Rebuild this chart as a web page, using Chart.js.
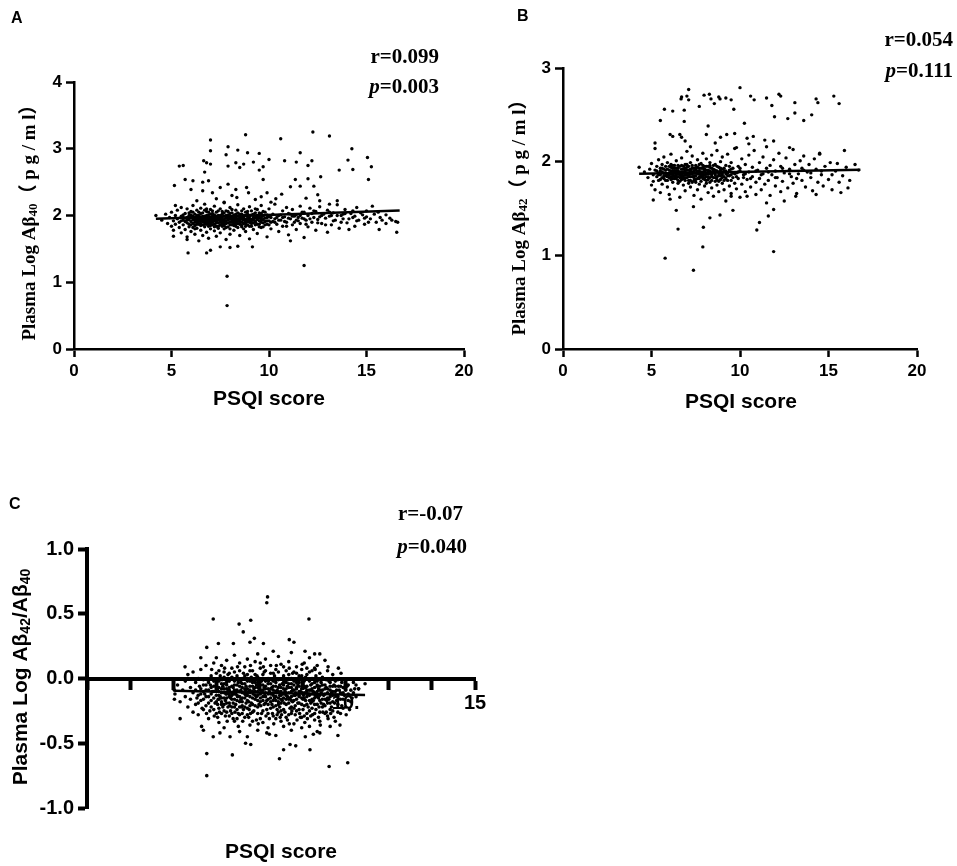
<!DOCTYPE html>
<html>
<head>
<meta charset="utf-8">
<script src="https://cdn.jsdelivr.net/npm/chart.js@4.4.1/dist/chart.umd.min.js"></script>
<style>
  body { margin: 0; background: #fff; width: 957px; height: 866px; position: relative; overflow: hidden; }
  .panel { position: absolute; }
</style>
</head>
<body>
<div class="panel" style="left:0;top:0;width:480px;height:420px"><canvas id="chartA"></canvas></div>
<div class="panel" style="left:480px;top:0;width:477px;height:420px"><canvas id="chartB"></canvas></div>
<div class="panel" style="left:0;top:460px;width:500px;height:406px"><canvas id="chartC"></canvas></div>
<script>
// ---- Panel A : PSQI score vs plasma log Abeta40 ----
const outA = [[4.2,2.0],[5.15,2.45],[5.4,2.74],[5.6,2.75],[5.7,2.54],[5.2,2.15],[5.85,1.44],[6.1,2.52],[6.0,2.39],[6.65,2.82],[6.7,2.65],[6.8,2.79],[7.0,3.13],[7.0,2.97],[7.0,2.77],[6.9,2.52],[7.1,2.34],[7.8,2.91],[7.9,3.03],[7.9,2.74],[8.4,2.98],[8.3,2.79],[8.5,2.72],[8.8,3.21],[8.9,2.94],[8.7,2.77],[9.2,2.8],[9.5,2.93],[9.5,2.68],[9.7,2.73],[9.7,2.54],[10.0,2.84],[10.6,3.15],[10.8,2.82],[11.6,2.94],[11.4,2.8],[12.0,2.75],[12.2,2.82],[12.25,3.25],[12.0,2.55],[12.65,2.58],[13.1,3.19],[13.6,2.68],[14.05,2.83],[14.25,3.0],[14.3,2.69],[15.05,2.87],[15.1,2.54],[15.25,2.73],
  [6.6,2.5],[6.6,2.37],[7.5,2.42],[7.9,2.47],[8.3,2.39],[8.35,2.27],[8.85,2.42],[8.95,2.34],[9.3,2.24],[9.9,2.34],[10.35,2.25],[10.65,2.32],[11.1,2.43],[11.35,2.54],[11.6,2.44],[12.3,2.44],[12.6,2.22],[13.1,2.17],[13.5,2.22],
  [6.3,2.22],[7.3,2.25],[7.7,2.2],[8.1,2.3],[9.6,2.28],[10.1,2.2],[11.9,2.26],[12.5,2.31],
  [6.8,1.44],[7.0,1.48],[7.85,1.09],[7.85,0.65],[11.8,1.25],[7.5,1.53],[8.0,1.52],[8.4,1.54],[9.15,1.53],[11.1,1.62],[5.8,1.64],[5.1,1.69],[15.65,1.79],[16.55,1.75]];
const bandA = [[4.5,1.93],[4.7,2.02],[4.8,1.88],[4.9,1.97],[5.0,1.84],[5.0,2.05],[5.1,1.92],[5.1,1.78],[5.2,2.0],[5.2,1.87],[5.3,1.95],[5.3,2.08],[5.4,1.82],[5.4,1.9],[5.5,1.99],[5.5,1.74],[5.5,2.12],
  [5.6,1.93],[5.6,1.86],[5.7,2.03],[5.7,1.79],[5.7,1.96],[5.8,1.89],[5.8,2.1],[5.8,1.68],[5.9,1.94],[5.9,2.0],[5.9,1.83],[6.0,1.91],[6.0,1.97],[6.0,2.06],[6.0,1.76],[6.1,1.88],[6.1,1.99],[6.1,2.15],[6.2,1.93],[6.2,1.85],[6.2,2.02],[6.2,1.72],[6.3,1.96],[6.3,1.9],[6.3,2.08],[6.3,1.81],[6.4,1.94],[6.4,1.87],[6.4,2.0],[6.4,1.62],[6.5,1.92],[6.5,1.98],[6.5,2.11],[6.5,1.78],[6.6,1.95],[6.6,1.86],[6.6,2.04],[6.6,1.7],[6.7,1.9],[6.7,1.99],[6.7,1.83],[6.7,2.17],[6.8,1.93],[6.8,1.96],[6.8,2.06],[6.8,1.75],[6.9,1.88],[6.9,2.01],[6.9,1.94],[6.9,1.66],[7.0,1.91],[7.0,1.97],[7.0,2.09],[7.0,1.8],
  [7.1,1.95],[7.1,1.86],[7.1,2.03],[7.2,1.92],[7.2,1.99],[7.2,1.77],[7.2,2.14],[7.3,1.89],[7.3,1.96],[7.3,2.05],[7.3,1.69],[7.4,1.93],[7.4,1.84],[7.4,2.0],[7.5,1.97],[7.5,1.9],[7.5,2.1],[7.5,1.74],[7.6,1.94],[7.6,1.87],[7.6,2.02],[7.7,1.91],[7.7,1.99],[7.7,1.8],[7.7,2.19],[7.8,1.96],[7.8,1.88],[7.8,2.07],[7.8,1.64],[7.9,1.93],[7.9,2.01],[7.9,1.83],[8.0,1.95],[8.0,1.9],[8.0,2.12],[8.0,1.72],[8.1,1.98],[8.1,1.86],[8.1,2.04],[8.2,1.92],[8.2,1.97],[8.2,1.78],[8.3,1.94],[8.3,2.08],[8.3,1.88],[8.4,1.99],[8.4,1.82],[8.4,2.16],[8.5,1.93],[8.5,1.96],[8.5,1.7],
  [8.6,1.9],[8.6,2.02],[8.6,1.85],[8.7,1.97],[8.7,1.93],[8.7,2.1],[8.8,1.88],[8.8,2.0],[8.8,1.76],[8.9,1.95],[8.9,1.91],[8.9,2.06],[9.0,1.98],[9.0,1.84],[9.0,2.13],[9.0,1.65],[9.1,1.94],[9.1,2.01],[9.2,1.89],[9.2,1.97],[9.2,1.79],[9.3,2.04],[9.3,1.92],[9.4,1.87],[9.4,2.09],[9.4,1.73],[9.5,1.96],[9.5,2.0],[9.6,1.9],[9.6,1.82],[9.6,2.15],[9.7,1.99],[9.7,1.94],[9.8,1.86],[9.8,2.05],[9.9,1.92],[9.9,1.68],[10.0,1.98],[10.0,2.1],
  [10.1,1.9],[10.1,1.8],[10.2,2.02],[10.3,1.95],[10.3,2.17],[10.4,1.87],[10.5,2.0],[10.5,1.76],[10.6,1.93],[10.7,2.07],[10.7,1.84],[10.8,1.98],[10.9,2.12],[10.9,1.9],[11.0,1.71],[11.0,2.03],[11.1,1.95],[11.2,1.86],[11.2,2.09],[11.3,1.99],[11.4,1.79],[11.4,2.01],[11.5,1.92],[11.6,2.14],[11.6,1.88],[11.7,1.96],[11.8,1.67],[11.8,2.05],[11.9,1.93],[12.0,1.83],[12.0,2.0],
  [12.1,2.11],[12.2,1.9],[12.3,1.97],[12.4,2.06],[12.4,1.78],[12.5,1.94],[12.6,2.13],[12.7,1.88],[12.8,2.02],[12.9,1.96],[13.0,1.75],[13.0,2.08],[13.1,1.99],[13.2,1.86],[13.3,2.04],[13.4,1.93],[13.5,2.16],[13.6,1.81],[13.7,2.0],[13.8,1.95],[13.9,2.09],[14.0,1.89],[14.1,1.79],[14.2,2.03],[14.3,1.97],[14.4,1.84],[14.5,2.12],[14.6,1.93],[14.8,2.01],[14.9,1.87],[15.0,2.07],[15.2,1.95],[15.3,2.14],[15.5,1.9],[15.6,2.05],[15.8,1.93],[16.0,1.88],[16.2,1.96],[16.5,1.91]];
const coreA = [[5.6,2.01],[5.7,1.91],[5.8,1.97],[5.9,1.87],[6.0,2.01],[6.1,1.94],[6.1,1.82],[6.2,1.97],[6.3,1.87],[6.3,2.0],[6.4,1.91],[6.4,2.05],[6.5,1.88],[6.5,1.95],[6.6,1.99],[6.6,1.91],[6.7,1.94],[6.7,2.08],[6.8,1.87],[6.8,2.0],[6.9,1.97],[6.9,1.84],[7.0,1.94],[7.0,2.02],[7.1,1.9],[7.1,1.99],[7.2,1.87],[7.2,1.95],[7.3,1.93],[7.3,1.84],[7.4,1.97],[7.4,2.07],[7.5,1.86],[7.5,1.93],[7.6,1.98],[7.6,1.91],[7.7,1.88],[7.7,2.04],[7.8,1.92],[7.8,2.0],[7.9,1.89],[7.9,1.97],[8.0,1.86],[8.0,2.03],[8.1,1.93],[8.1,1.9],[8.2,2.01],[8.2,1.88],[8.3,1.97],[8.3,1.84],[8.4,1.92],[8.4,1.95],[8.5,2.02],[8.5,1.87],[8.6,1.95],[8.6,1.98],[8.7,1.88],[8.7,1.8],[8.8,1.94],[8.8,2.05],[8.9,1.98],[8.9,1.86],[9.0,1.93],[9.0,1.9],[9.1,1.88],[9.1,2.07],[9.2,1.93],[9.2,2.02],[9.3,1.86],[9.3,1.97],[9.4,1.94],[9.4,2.0],[9.5,1.87],[9.5,1.92],[9.6,1.97],[9.6,2.03],[9.7,1.89],[9.7,1.83],[9.8,1.96],[9.9,2.01],[9.9,1.87],[10.0,1.92],[10.2,1.91],[10.4,1.97],[10.6,2.01],[10.8,1.91],[11.0,1.96],[11.2,1.99],[11.4,1.93],[11.6,2.0],[11.8,1.95],[12.2,2.03],[12.6,1.98],[13.2,2.0],[13.8,2.02],[14.4,1.99],[15.0,1.98]];
const coreA2 = [[5.5,1.92],[5.6,1.97],[5.8,1.93],[5.9,2.04],[6.0,1.86],[6.1,2.05],[6.2,1.9],[6.2,1.8],[6.3,1.93],[6.4,1.98],[6.5,1.85],[6.5,2.03],[6.6,1.93],[6.7,1.87],[6.7,1.97],[6.8,1.9],[6.8,2.1],[6.9,1.92],[6.9,2.05],[7.0,1.88],[7.0,1.85],[7.1,1.93],[7.1,2.07],[7.2,1.83],[7.2,2.01],[7.3,1.99],[7.3,1.91],[7.4,1.89],[7.4,1.81],[7.5,2.0],[7.5,1.95],[7.6,1.84],[7.6,2.06],[7.7,1.94],[7.7,1.85],[7.8,1.98],[7.8,1.82],[7.9,1.95],[7.9,2.06],[8.0,1.97],[8.0,1.8],[8.1,1.96],[8.1,2.09],[8.2,1.94],[8.2,1.85],[8.3,1.91],[8.3,2.02],[8.4,1.88],[8.4,2.04],[8.5,1.98],[8.5,1.91],[8.6,1.83],[8.6,2.07],[8.7,1.95],[8.7,2.0],[8.8,1.91],[8.8,1.84],[8.9,2.02],[8.9,1.93],[9.0,1.95],[9.0,2.0],[9.1,1.92],[9.1,1.84],[9.2,1.95],[9.3,1.9],[9.3,2.1],[9.4,1.97],[9.5,1.83],[9.5,2.04],[9.6,1.93],[9.7,2.06],[9.8,1.91],[9.9,1.97],[10.0,1.86],[10.1,1.97],[10.3,1.9],[10.5,1.93],[10.7,1.97],[10.9,1.84],[11.1,2.02],[11.3,1.9],[11.5,1.97],[11.7,2.05],[11.9,1.87],[12.1,1.95],[12.3,2.07],[12.5,1.89],[12.7,2.0],[12.9,1.86],[13.1,2.05],[13.3,1.92],[13.5,2.0],[13.7,1.9],[13.9,2.03],[14.1,1.95],[14.3,2.07],[14.5,1.92],[14.7,2.04],[14.9,1.96],[15.1,1.9],[15.4,2.02],[15.7,1.97],[16.0,2.01],[16.3,1.93],[16.6,1.9]];
const fitAX = [4.2, 16.7];
const fitAY = [1.95, 2.075];

// ---- Panel B : PSQI score vs plasma log Abeta42 ----
const outB = [[5.5,2.44],[5.73,2.56],[6.2,2.54],[6.05,2.29],[6.2,2.27],[6.67,2.67],[6.7,2.69],[6.85,2.43],[7.0,2.7],[7.1,2.77],[7.1,2.66],[6.85,2.55],[7.7,2.59],[7.97,2.71],[8.27,2.72],[8.36,2.67],[8.55,2.62],[8.2,2.38],[8.8,2.69],[8.87,2.67],[9.2,2.68],[9.5,2.66],[9.65,2.56],[10.0,2.79],[10.25,2.41],[10.6,2.7],[10.8,2.66],[11.5,2.68],[11.8,2.6],[11.95,2.48],[12.2,2.72],[12.3,2.7],[12.7,2.46],[13.1,2.63],[13.1,2.52],[13.6,2.44],[14.05,2.5],[14.3,2.67],[14.4,2.63],[15.3,2.7],[15.6,2.62],
  [5.2,2.2],[5.2,2.14],[6.6,2.29],[6.7,2.26],[6.9,2.22],[7.2,2.16],[8.1,2.29],[8.6,2.2],[8.9,2.26],[9.25,2.29],[9.7,2.3],[10.4,2.25],[10.75,2.27],[11.4,2.23],[11.9,2.22],[12.8,2.15],[14.5,2.09],[15.9,2.12],[9.8,2.15],[10.5,2.19],
  [5.77,0.97],[7.37,0.84],[7.9,1.09],[11.9,1.04],[10.95,1.27],[11.1,1.35],[6.5,1.28],[7.93,1.3],[8.3,1.4],[8.87,1.43],[9.6,1.48],[6.4,1.48],[5.1,1.59],[11.6,1.42],[11.9,1.49],[11.5,1.56],[12.5,1.58],[13.15,1.63],[14.3,1.65],[15.7,1.67],[16.1,1.72],[6.05,1.6],[7.37,1.52],[9.5,1.63],[10.4,1.63]];
const bandB = [[4.3,1.94],[4.6,1.89],[4.8,1.83],[4.9,1.92],[5.0,1.75],[5.0,1.98],[5.1,1.86],[5.1,1.79],[5.2,1.91],[5.2,1.7],[5.3,1.95],[5.3,1.84],[5.4,1.88],[5.4,2.02],[5.5,1.81],[5.5,1.93],[5.5,1.67],[5.6,1.89],[5.6,1.97],[5.6,1.76],[5.7,1.85],[5.7,1.92],[5.7,2.05],[5.8,1.8],[5.8,1.88],[5.8,1.95],[5.9,1.73],[5.9,1.86],[5.9,1.99],[6.0,1.83],[6.0,1.91],[6.0,1.65],[6.1,1.87],[6.1,1.94],[6.1,2.08],[6.2,1.78],[6.2,1.85],[6.2,1.9],[6.3,1.96],[6.3,1.82],[6.3,1.71],[6.4,1.88],[6.4,1.93],[6.4,2.01],[6.5,1.84],[6.5,1.77],[6.5,1.9],[6.6,1.95],[6.6,1.86],[6.6,1.62],[6.7,1.81],[6.7,1.89],[6.7,2.04],[6.8,1.92],[6.8,1.75],[6.8,1.85],[6.9,1.97],[6.9,1.83],[6.9,1.69],[7.0,1.88],[7.0,1.94],[7.0,2.11],[7.1,1.8],[7.1,1.86],[7.1,1.91],[7.2,1.73],[7.2,1.99],[7.2,1.84],[7.3,1.89],[7.3,1.78],[7.3,2.06],[7.4,1.93],[7.4,1.85],[7.4,1.64],[7.5,1.88],[7.5,1.96],[7.5,1.81],[7.6,1.7],[7.6,1.9],[7.6,2.02],[7.7,1.84],[7.7,1.87],[7.7,1.76],[7.8,1.93],[7.8,1.98],[7.8,1.6],[7.9,1.82],[7.9,1.89],[7.9,2.09],[8.0,1.86],[8.0,1.74],[8.0,1.95],[8.1,1.8],[8.1,1.91],[8.1,2.03],[8.2,1.67],[8.2,1.87],[8.2,1.84],[8.3,1.94],[8.3,1.78],[8.3,1.99],[8.4,1.89],[8.4,1.72],[8.4,2.07],[8.5,1.83],[8.5,1.92],[8.5,1.63],[8.6,1.86],[8.6,1.97],[8.6,1.79],[8.7,1.9],[8.7,2.12],[8.7,1.75],[8.8,1.85],[8.8,1.94],[8.8,1.68],[8.9,1.81],[8.9,2.0],[8.9,1.88],[9.0,1.77],[9.0,1.92],[9.0,2.05],[9.1,1.84],[9.1,1.7],[9.2,1.96],[9.2,1.87],[9.2,1.58],[9.3,1.8],[9.3,2.08],[9.4,1.91],[9.4,1.74],[9.5,1.86],[9.5,1.99],[9.5,1.66],[9.6,1.83],[9.6,1.93],[9.7,1.77],[9.7,2.14],[9.8,1.88],[9.8,1.71],[9.9,1.95],[9.9,1.82],[10.0,1.62],[10.0,1.9],[10.1,2.03],[10.1,1.76],[10.2,1.86],[10.3,1.97],[10.3,1.68],[10.4,1.81],[10.5,2.07],[10.5,1.89],[10.6,1.73],[10.7,1.94],[10.7,1.84],[10.8,2.12],[10.9,1.78],[10.9,1.65],[11.0,1.91],[11.1,1.99],[11.1,1.82],[11.2,1.7],[11.3,2.05],[11.3,1.87],[11.4,1.76],[11.5,1.93],[11.5,2.16],[11.6,1.8],[11.7,1.64],[11.7,1.96],[11.8,1.86],[11.9,2.02],[12.0,1.74],[12.0,1.9],[12.1,1.83],[12.2,2.09],[12.3,1.95],[12.3,1.68],[12.4,1.79],[12.5,1.88],[12.6,2.04],[12.7,1.72],[12.8,1.92],[12.9,1.84],[13.0,2.13],[13.0,1.77],[13.1,1.97],[13.2,1.66],[13.3,1.87],[13.4,2.01],[13.5,1.8],[13.5,1.93],[13.6,2.06],[13.7,1.73],[13.8,1.89],[13.9,1.97],[14.0,1.83],[14.1,1.69],[14.2,2.03],[14.3,1.92],[14.4,1.78],[14.5,2.08],[14.6,1.86],[14.7,1.74],[14.8,1.95],[15.0,1.81],[15.1,1.99],[15.2,1.7],[15.4,1.9],[15.5,1.98],[15.6,1.78],[15.8,1.85],[16.0,1.94],[16.2,1.8],[16.5,1.97],[16.7,1.91]];
const coreB = [[5.4,1.86],[5.5,1.9],[5.6,1.83],[5.7,1.88],[5.8,1.91],[5.9,1.84],[6.0,1.88],[6.0,1.95],[6.1,1.81],[6.1,1.9],[6.2,1.93],[6.2,1.87],[6.3,1.85],[6.3,1.9],[6.4,1.82],[6.4,1.86],[6.5,1.93],[6.5,1.87],[6.6,1.89],[6.6,1.83],[6.7,1.92],[6.7,1.86],[6.8,1.88],[6.8,1.95],[6.9,1.86],[6.9,1.9],[7.0,1.83],[7.0,1.91],[7.1,1.88],[7.1,1.95],[7.2,1.87],[7.2,1.92],[7.3,1.84],[7.3,1.93],[7.4,1.88],[7.4,1.8],[7.5,1.91],[7.5,1.85],[7.6,1.87],[7.6,1.94],[7.7,1.9],[7.7,1.82],[7.8,1.86],[7.8,1.89],[7.9,1.93],[7.9,1.85],[8.0,1.9],[8.0,1.83],[8.1,1.87],[8.1,1.95],[8.2,1.91],[8.2,1.81],[8.3,1.87],[8.3,1.9],[8.4,1.84],[8.4,1.93],[8.5,1.88],[8.6,1.91],[8.7,1.84],[8.8,1.89],[8.9,1.93],[9.0,1.86],[9.1,1.9],[9.2,1.82],[9.3,1.88],[9.4,1.85],[9.5,1.92],[9.7,1.87],[9.9,1.89],[10.2,1.83]];
const coreB2 = [[5.3,1.9],[5.4,1.8],[5.5,1.86],[5.6,1.93],[5.7,1.82],[5.8,1.85],[5.9,1.92],[5.9,1.8],[6.0,1.86],[6.1,1.84],[6.1,1.97],[6.2,1.82],[6.2,1.96],[6.3,1.88],[6.3,1.93],[6.4,1.84],[6.4,1.9],[6.5,1.8],[6.5,1.96],[6.6,1.88],[6.6,1.79],[6.7,1.84],[6.7,1.96],[6.8,1.82],[6.8,1.89],[6.9,1.93],[6.9,1.8],[7.0,1.86],[7.0,1.97],[7.1,1.84],[7.1,1.77],[7.2,1.9],[7.2,1.8],[7.3,1.87],[7.3,1.96],[7.4,1.9],[7.4,1.83],[7.5,1.78],[7.5,1.93],[7.6,1.82],[7.6,1.89],[7.7,1.93],[7.7,1.97],[7.8,1.84],[7.8,1.79],[7.9,1.87],[7.9,1.96],[8.0,1.81],[8.0,1.92],[8.1,1.84],[8.1,1.77],[8.2,1.89],[8.2,1.95],[8.3,1.83],[8.3,1.96],[8.4,1.86],[8.4,1.8],[8.5,1.9],[8.5,1.96],[8.6,1.83],[8.6,1.88],[8.7,1.81],[8.7,1.95],[8.8,1.87],[8.8,1.79],[8.9,1.85],[8.9,1.91],[9.0,1.83],[9.0,1.88],[9.1,1.93],[9.1,1.8],[9.2,1.9],[9.3,1.85],[9.4,1.95],[9.5,1.8],[9.6,1.88],[9.8,1.84],[10.0,1.93],[10.3,1.87],[10.6,1.82],[10.9,1.9],[11.2,1.86],[11.6,1.89],[12.0,1.83],[12.4,1.93],[12.8,1.87],[13.2,1.82],[13.6,1.91],[14.0,1.88],[14.6,1.9],[15.2,1.86]];
const fitBX = [4.3, 16.8];
const fitBY = [1.87, 1.915];

// ---- Panel C : PSQI score vs plasma log Abeta42/Abeta40 ----
const outC = [[6.98,0.63],[6.95,0.585],[4.88,0.46],[8.58,0.46],[5.88,0.42],[6.33,0.45],[6.04,0.36],[6.47,0.31],[6.3,0.28],[7.82,0.3],[8.0,0.28],[5.66,0.27],[5.08,0.27],[4.63,0.24],[6.82,0.27],[8.8,0.19],[8.43,0.21],[7.2,0.21],[3.79,0.09],[9.72,0.08],
  [3.6,-0.31],[9.78,-0.36],[4.63,-0.58],[4.63,-0.75],[5.62,-0.59],[7.44,-0.62],[7.6,-0.55],[7.85,-0.51],[8.07,-0.52],[8.62,-0.55],[9.36,-0.68],[10.08,-0.65],[6.33,-0.51],[6.13,-0.5],[6.95,-0.42],[7.05,-0.43],[8.44,-0.45],[8.75,-0.43],[9.0,-0.42],[4.43,-0.37],[4.88,-0.45],[5.14,-0.42],[5.53,-0.45],[5.85,-0.37],[10.75,-0.04],[10.5,-0.08],[3.38,-0.09],[3.38,-0.16],[4.1,-0.26],
  [4.5,-0.4],[5.3,-0.38],[5.9,-0.41],[6.6,-0.4],[7.3,-0.44],[7.9,-0.4],[8.3,-0.38],[8.9,-0.41],[9.4,-0.37],[9.7,-0.44],[6.2,-0.45],[7.6,-0.37],
  [5.0,0.16],[5.7,0.18],[6.2,0.15],[6.6,0.19],[7.4,0.17],[7.9,0.2],[8.6,0.16],[9.2,0.14],[9.0,0.19],[4.4,0.16]];
const bandC = [[3.4,-0.12],[3.5,-0.05],[3.6,-0.18],[3.7,-0.09],[3.8,-0.02],[3.8,-0.14],[3.9,-0.22],[3.9,0.03],[4.0,-0.07],[4.0,-0.16],[4.1,-0.11],[4.1,0.05],[4.2,-0.2],[4.2,-0.03],[4.3,-0.13],[4.3,-0.28],[4.3,0.0],[4.4,-0.08],[4.4,-0.17],[4.4,0.07],[4.5,-0.1],[4.5,-0.24],[4.5,-0.01],[4.6,-0.14],[4.6,-0.05],[4.6,0.1],[4.7,-0.19],[4.7,-0.09],[4.7,-0.31],[4.8,0.02],[4.8,-0.12],[4.8,-0.22],[4.9,-0.06],[4.9,-0.15],[4.9,0.12],
  [5.0,-0.1],[5.0,-0.27],[5.0,-0.02],[5.0,-0.18],[5.1,0.06],[5.1,-0.13],[5.1,-0.07],[5.1,-0.34],[5.2,-0.2],[5.2,-0.04],[5.2,-0.11],[5.2,0.1],[5.3,-0.15],[5.3,-0.08],[5.3,-0.25],[5.3,0.01],[5.4,-0.12],[5.4,-0.03],[5.4,-0.19],[5.4,0.14],[5.5,-0.09],[5.5,-0.29],[5.5,-0.14],[5.5,0.04],[5.6,-0.06],[5.6,-0.22],[5.6,-0.11],[5.6,0.08],[5.7,-0.16],[5.7,-0.02],[5.7,-0.33],[5.7,-0.09],[5.8,-0.13],[5.8,0.02],[5.8,-0.24],[5.8,-0.05],[5.9,-0.18],[5.9,-0.1],[5.9,0.12],[5.9,-0.28],[6.0,-0.07],[6.0,-0.15],[6.0,0.0],[6.0,-0.21],
  [6.1,-0.12],[6.1,-0.04],[6.1,-0.3],[6.1,0.09],[6.2,-0.17],[6.2,-0.08],[6.2,-0.23],[6.2,0.03],[6.3,-0.11],[6.3,-0.02],[6.3,-0.36],[6.3,-0.14],[6.4,-0.06],[6.4,-0.2],[6.4,0.06],[6.4,-0.26],[6.5,-0.1],[6.5,-0.16],[6.5,0.13],[6.5,-0.03],[6.6,-0.13],[6.6,-0.22],[6.6,-0.07],[6.6,0.01],[6.7,-0.18],[6.7,-0.09],[6.7,-0.31],[6.7,0.08],[6.8,-0.05],[6.8,-0.14],[6.8,-0.25],[6.8,0.03],[6.9,-0.11],[6.9,-0.19],[6.9,-0.02],[6.9,0.15],[7.0,-0.08],[7.0,-0.16],[7.0,-0.38],[7.0,0.0],
  [7.1,-0.12],[7.1,-0.04],[7.1,-0.23],[7.1,0.1],[7.2,-0.09],[7.2,-0.17],[7.2,0.04],[7.2,-0.29],[7.3,-0.14],[7.3,-0.06],[7.3,-0.21],[7.3,0.07],[7.4,-0.1],[7.4,-0.01],[7.4,-0.26],[7.4,-0.15],[7.5,-0.07],[7.5,-0.19],[7.5,0.11],[7.5,-0.33],[7.6,-0.12],[7.6,-0.03],[7.6,-0.24],[7.6,0.02],[7.7,-0.16],[7.7,-0.08],[7.7,0.06],[7.7,-0.2],[7.8,-0.11],[7.8,-0.28],[7.8,-0.04],[7.8,0.13],[7.9,-0.14],[7.9,-0.07],[7.9,-0.22],[7.9,0.0],[8.0,-0.09],[8.0,-0.17],[8.0,0.05],[8.0,-0.35],
  [8.1,-0.12],[8.1,-0.03],[8.1,-0.25],[8.1,0.09],[8.2,-0.06],[8.2,-0.19],[8.2,-0.1],[8.2,0.02],[8.3,-0.15],[8.3,-0.08],[8.3,-0.3],[8.3,0.07],[8.4,-0.11],[8.4,-0.02],[8.4,-0.21],[8.4,0.12],[8.5,-0.14],[8.5,-0.06],[8.5,-0.27],[8.5,0.03],[8.6,-0.09],[8.6,-0.17],[8.6,0.05],[8.6,-0.37],[8.7,-0.12],[8.7,-0.04],[8.7,-0.23],[8.7,0.0],[8.8,-0.07],[8.8,-0.15],[8.8,-0.32],[8.8,0.08],[8.9,-0.1],[8.9,-0.2],[8.9,-0.02],[9.0,-0.13],[9.0,-0.26],[9.0,0.04],[9.0,-0.06],
  [9.1,-0.16],[9.1,-0.09],[9.1,0.01],[9.2,-0.21],[9.2,-0.05],[9.2,-0.12],[9.3,-0.29],[9.3,-0.08],[9.3,0.06],[9.4,-0.14],[9.4,-0.03],[9.4,-0.24],[9.5,-0.1],[9.5,-0.18],[9.5,0.03],[9.6,-0.06],[9.6,-0.33],[9.6,-0.13],[9.7,-0.2],[9.7,-0.01],[9.8,-0.11],[9.8,-0.27],[9.9,-0.07],[9.9,-0.16],[10.0,-0.04],[10.0,-0.22],[10.1,-0.12],[10.2,-0.09],[10.2,-0.18],[10.3,-0.03],[10.4,-0.14],[10.5,-0.08]];
const coreC = [[5.0,-0.06],[5.1,-0.1],[5.2,-0.15],[5.3,-0.04],[5.4,-0.08],[5.5,-0.12],[5.6,-0.16],[5.7,-0.05],[5.8,-0.09],[5.9,-0.14],[6.0,-0.11],[6.1,-0.08],[6.2,-0.13],[6.3,-0.06],[6.4,-0.1],[6.5,-0.07],[6.6,-0.17],[6.7,-0.12],[6.8,-0.09],[6.9,-0.06],[7.0,-0.12],[7.1,-0.15],[7.2,-0.06],[7.3,-0.1],[7.4,-0.18],[7.5,-0.13],[7.6,-0.08],[7.7,-0.11],[7.8,-0.16],[7.9,-0.1],[8.0,-0.05],[8.1,-0.08],[8.2,-0.14],[8.3,-0.11],[8.4,-0.07],[8.5,-0.1],[8.6,-0.13],[8.7,-0.16],[8.8,-0.11],[8.9,-0.06],[9.0,-0.09],[9.1,-0.12],[9.2,-0.08],[9.3,-0.15],[9.4,-0.09],[9.5,-0.06],
  [5.05,-0.2],[5.35,-0.01],[5.65,-0.19],[5.95,-0.03],[6.25,-0.18],[6.55,-0.05],[6.85,-0.2],[7.15,-0.01],[7.45,-0.05],[7.75,-0.14],[8.05,-0.21],[8.35,-0.04],[8.65,-0.19],[8.95,-0.15],[9.25,-0.01],[5.45,-0.22],[6.15,-0.19],[6.75,-0.02],[7.35,-0.24],[7.95,-0.18],[8.45,-0.17],[9.05,-0.19],[9.65,-0.09],[9.85,-0.03]];
const coreC2 = [[4.2,-0.09],[4.3,-0.19],[4.4,-0.12],[4.5,-0.05],[4.5,-0.16],[4.6,-0.21],[4.6,-0.09],[4.7,-0.03],[4.7,-0.14],[4.8,-0.07],[4.8,-0.17],[4.9,-0.1],[4.9,-0.24],[4.9,-0.02],[5.0,-0.13],[5.0,0.04],[5.1,-0.16],[5.1,-0.23],[5.1,-0.02],[5.2,-0.08],[5.2,-0.27],[5.2,-0.18],[5.3,-0.11],[5.3,-0.2],[5.3,0.05],[5.4,-0.15],[5.4,-0.05],[5.4,-0.26],[5.5,-0.02],[5.5,-0.19],[5.5,-0.07],[5.6,-0.13],[5.6,-0.27],[5.6,0.01],[5.7,-0.12],[5.7,-0.22],[5.7,0.05],[5.8,-0.17],[5.8,-0.01],[5.8,-0.31],[5.9,-0.06],[5.9,-0.22],[5.9,0.06],[6.0,-0.18],[6.0,-0.04],[6.0,-0.27],[6.1,-0.15],[6.1,-0.22],[6.1,0.02],[6.2,-0.11],[6.2,-0.02],[6.2,-0.28],[6.3,-0.09],[6.3,-0.21],[6.3,0.06],[6.4,-0.15],[6.4,-0.03],[6.4,-0.33],[6.5,-0.13],[6.5,-0.21],[6.5,0.03],[6.6,-0.1],[6.6,-0.03],[6.6,-0.27],[6.7,-0.15],[6.7,-0.05],[6.7,0.12],[6.8,-0.17],[6.8,-0.11],[6.8,-0.34],[6.9,-0.14],[6.9,-0.08],[6.9,0.06],[7.0,-0.2],[7.0,-0.04],[7.0,-0.27],[7.1,-0.08],[7.1,-0.18],[7.1,0.04],[7.2,-0.13],[7.2,-0.02],[7.2,-0.22],[7.3,-0.17],[7.3,-0.03],[7.3,-0.31],[7.4,-0.07],[7.4,-0.2],[7.4,0.05],[7.5,-0.1],[7.5,-0.16],[7.5,-0.25],[7.6,-0.15],[7.6,-0.05],[7.6,0.09],[7.7,-0.13],[7.7,-0.03],[7.7,-0.3],[7.8,-0.07],[7.8,-0.19],[7.8,0.03],[7.9,-0.17],[7.9,-0.04],[7.9,-0.27],[8.0,-0.13],[8.0,-0.02],[8.0,-0.23],[8.1,-0.16],[8.1,-0.07],[8.1,0.04],[8.2,-0.13],[8.2,-0.24],[8.2,-0.03],[8.3,-0.11],[8.3,-0.2],[8.3,0.02],[8.4,-0.15],[8.4,-0.06],[8.4,-0.29],[8.5,-0.09],[8.5,-0.2],[8.5,0.08],[8.6,-0.12],[8.6,-0.02],[8.6,-0.25],[8.7,-0.08],[8.7,-0.18],[8.7,0.06],[8.8,-0.2],[8.8,-0.03],[8.8,-0.27],[8.9,-0.14],[8.9,-0.05],[8.9,0.1],[9.0,-0.17],[9.0,-0.01],[9.0,-0.33],[9.1,-0.05],[9.1,-0.22],[9.2,-0.16],[9.2,-0.27],[9.3,-0.11],[9.3,-0.19],[9.4,-0.06],[9.4,-0.19],[9.5,-0.13],[9.5,-0.25],[9.6,-0.1],[9.6,-0.02],[9.7,-0.14],[9.7,-0.26],[9.8,-0.06],[9.8,-0.16],[9.9,-0.11],[9.9,-0.23],[10.0,-0.09],[10.1,-0.17],[10.1,-0.05],[10.3,-0.11],[10.4,-0.05]];
const coreC3 = [[4.25,-0.15],[4.35,-0.06],[4.45,-0.23],[4.55,-0.12],[4.65,-0.01],[4.75,-0.25],[4.85,-0.1],[4.95,-0.19],[5.05,-0.08],[5.05,-0.3],[5.15,-0.14],[5.15,0.02],[5.25,-0.22],[5.25,-0.06],[5.35,-0.17],[5.35,-0.29],[5.45,-0.1],[5.45,0.03],[5.55,-0.15],[5.55,-0.25],[5.65,-0.07],[5.65,-0.31],[5.75,-0.2],[5.75,-0.11],[5.85,-0.03],[5.85,-0.27],[5.95,-0.16],[5.95,-0.09],[6.05,-0.24],[6.05,0.04],[6.15,-0.13],[6.15,-0.06],[6.25,-0.3],[6.25,-0.1],[6.35,-0.19],[6.35,0.01],[6.45,-0.08],[6.45,-0.25],[6.55,-0.14],[6.55,-0.32],[6.65,-0.04],[6.65,-0.2],[6.75,-0.11],[6.75,-0.27],[6.85,-0.07],[6.85,0.05],[6.95,-0.17],[6.95,-0.24],[7.05,-0.1],[7.05,-0.31],[7.15,-0.2],[7.15,-0.07],[7.25,-0.15],[7.25,0.02],[7.35,-0.09],[7.35,-0.28],[7.45,-0.13],[7.45,-0.22],[7.55,-0.04],[7.55,-0.17],[7.65,-0.26],[7.65,-0.1],[7.75,-0.06],[7.75,-0.32],[7.85,-0.15],[7.85,-0.23],[7.95,-0.09],[7.95,0.04],[8.05,-0.13],[8.05,-0.28],[8.15,-0.19],[8.15,-0.05],[8.25,-0.1],[8.25,-0.3],[8.35,-0.16],[8.35,-0.24],[8.45,-0.07],[8.45,0.01],[8.55,-0.12],[8.55,-0.22],[8.65,-0.05],[8.65,-0.29],[8.75,-0.17],[8.75,-0.1],[8.85,-0.24],[8.85,0.02],[8.95,-0.08],[8.95,-0.3],[9.05,-0.11],[9.05,-0.03],[9.15,-0.2],[9.15,-0.13],[9.25,-0.26],[9.25,-0.07],[9.35,-0.16],[9.35,-0.02],[9.45,-0.22],[9.45,-0.11],[9.55,-0.05],[9.55,-0.3],[9.65,-0.17],[9.75,-0.09],[9.85,-0.21],[9.95,-0.13],[10.05,-0.06],[10.15,-0.24],[10.25,-0.15],[10.35,-0.08],
  [4.62,-0.27],[4.77,-0.05],[4.92,-0.29],[5.07,-0.16],[5.22,-0.01],[5.37,-0.12],[5.52,-0.21],[5.67,0.0],[5.82,-0.14],[5.97,-0.22],[6.12,-0.09],[6.27,-0.24],[6.42,-0.12],[6.57,0.02],[6.72,-0.21],[6.87,-0.13],[7.02,-0.02],[7.17,-0.27],[7.32,-0.11],[7.47,-0.3],[7.62,-0.19],[7.77,-0.01],[7.92,-0.25],[8.07,-0.11],[8.22,-0.27],[8.37,-0.13],[8.52,-0.31],[8.67,-0.09],[8.82,-0.13],[8.97,-0.22],[9.12,-0.26],[9.27,-0.17],[9.42,-0.27],[9.57,-0.19],[9.72,-0.06],[9.87,-0.12],[10.02,-0.28],[5.12,-0.26],[5.42,-0.33],[5.72,-0.26],[6.02,-0.33],[6.32,-0.27],[6.62,-0.35],[6.92,-0.29],[7.22,-0.35],[7.52,-0.28],[7.82,-0.35],[8.12,-0.32],[8.42,-0.34],[8.72,-0.28],[9.02,-0.36],[9.32,-0.31],[4.82,0.07],[5.32,0.08],[5.82,0.09],[6.32,0.1],[6.82,0.09],[7.32,0.1],[7.82,0.08],[8.32,0.11],[8.82,0.07],[9.32,0.09],[9.82,0.04]];
const fitCX = [3.4, 10.75];
const fitCY = [-0.095, -0.128];
const cTickValues = [0, 1.667, 3.333, 5, 6.667, 8.333, 10, 11.667, 13.333, 15];
const cTickLabels = ['', '', '', '', '', '', '10.', '', '', '15'];

const SANS = '"Liberation Sans", Arial, sans-serif';
const SERIF = '"Liberation Serif", "Times New Roman", "Noto Sans CJK SC", serif';

function toXY(list) {
  return list.map(p => ({x: p[0], y: p[1]}));
}

function fitLine(xs, ys) {
  return xs.map((x, i) => ({x: x, y: ys[i]}));
}

// draw a run of text pieces (for subscripts / mixed fonts)
function drawParts(ctx, parts, x, y, align) {
  let w = 0;
  parts.forEach(p => { ctx.font = p.font; w += ctx.measureText(p.t).width; });
  let cx = align === 'right' ? x - w : (align === 'center' ? x - w / 2 : x);
  parts.forEach(p => {
    ctx.font = p.font;
    ctx.fillText(p.t, cx, y + (p.dy || 0));
    cx += ctx.measureText(p.t).width;
  });
}

function textPlugin(items) {
  return {
    id: 'panelText',
    afterDraw(chart) {
      const ctx = chart.ctx;
      ctx.save();
      ctx.fillStyle = '#000';
      ctx.textAlign = 'left';
      items.forEach(it => {
        if (it.rotate) {
          ctx.save();
          ctx.translate(it.x, it.y);
          ctx.rotate(-Math.PI / 2);
          ctx.textBaseline = 'middle';
          drawParts(ctx, it.parts, 0, 0, 'center');
          ctx.restore();
        } else {
          ctx.textBaseline = 'alphabetic';
          drawParts(ctx, it.parts, it.x, it.y, it.align);
        }
      });
      ctx.restore();
    }
  };
}

function axis(lineW, tickLen, fontSize) {
  return {
    grid: {display: true, drawOnChartArea: false, drawTicks: true, tickLength: tickLen, tickWidth: lineW, tickColor: '#000'},
    border: {display: true, color: '#000', width: lineW},
    ticks: {color: '#000', font: {family: SANS, weight: 'bold', size: fontSize}, padding: 4, autoSkip: false, maxRotation: 0}
  };
}

function makePanel(id, cfg) {
  const xAxis = axis(cfg.lineW, cfg.tickLen, cfg.fontSize);
  Object.assign(xAxis, {type: 'linear', min: cfg.xMin, max: cfg.xMax});
  xAxis.ticks.stepSize = cfg.xStep;
  if (cfg.xPosition) xAxis.position = cfg.xPosition;
  if (cfg.xHeight) xAxis.afterFit = s => { s.height = cfg.xHeight; };
  if (cfg.xTicks) {
    xAxis.afterBuildTicks = s => { s.ticks = cfg.xTicks.map(v => ({value: v})); };
    xAxis.ticks.callback = (v, i) => cfg.xLabels[i];
  }
  const yAxis = axis(cfg.lineW, cfg.tickLen, cfg.fontSize);
  Object.assign(yAxis, {type: 'linear', min: cfg.yMin, max: cfg.yMax});
  yAxis.ticks.stepSize = cfg.yStep;
  if (cfg.yFormat) yAxis.ticks.callback = cfg.yFormat;
  yAxis.afterFit = s => { s.width = cfg.yWidth; };

  new Chart(document.getElementById(id), {
    type: 'scatter',
    data: {
      datasets: [
        {data: fitLine(cfg.fitX, cfg.fitY), showLine: true, borderColor: '#000', borderWidth: 2.5, pointRadius: 0, order: 0},
        {data: toXY(cfg.points), backgroundColor: '#000', borderWidth: 0, pointRadius: cfg.dot, pointHoverRadius: cfg.dot, order: 1}
      ]
    },
    options: {
      responsive: true,
      maintainAspectRatio: false,
      animation: false,
      layout: {padding: cfg.padding},
      plugins: {legend: {display: false}, tooltip: {enabled: false}},
      scales: {x: xAxis, y: yAxis}
    },
    plugins: [textPlugin(cfg.texts)]
  });
}

const serifB = size => 'bold ' + size + 'px ' + SERIF;
const serifBI = size => 'italic bold ' + size + 'px ' + SERIF;
const sansB = size => 'bold ' + size + 'px ' + SANS;

makePanel('chartA', {
  points: outA.concat(bandA, coreA, coreA2), fitX: fitAX, fitY: fitAY, dot: 1.7,
  xMin: 0, xMax: 20, xStep: 5, yMin: 0, yMax: 4, yStep: 1,
  lineW: 2.5, tickLen: 8, fontSize: 17, yWidth: 74, xHeight: 71,
  padding: {left: 0, top: 82, right: 16, bottom: 0},
  texts: [
    {parts: [{t: 'A', font: sansB(16)}], x: 11, y: 23, align: 'left'},
    {parts: [{t: 'r=0.099', font: serifB(21)}], x: 439, y: 63, align: 'right'},
    {parts: [{t: 'p', font: serifBI(21)}, {t: '=0.003', font: serifB(21)}], x: 439, y: 93, align: 'right'},
    {parts: [{t: 'Plasma Log Aβ', font: serifB(19)}, {t: '40', font: serifB(13), dy: 4}, {t: '（ p g / m l）', font: serifB(19)}], x: 30, y: 218, rotate: true},
    {parts: [{t: 'PSQI score', font: sansB(21)}], x: 269, y: 405, align: 'center'}
  ]
});

makePanel('chartB', {
  points: outB.concat(bandB, coreB, coreB2), fitX: fitBX, fitY: fitBY, dot: 1.7,
  xMin: 0, xMax: 20, xStep: 5, yMin: 0, yMax: 3, yStep: 1,
  lineW: 2.5, tickLen: 8, fontSize: 17, yWidth: 83, xHeight: 71,
  padding: {left: 0, top: 68, right: 40, bottom: 0},
  texts: [
    {parts: [{t: 'B', font: sansB(16)}], x: 37, y: 21, align: 'left'},
    {parts: [{t: 'r=0.054', font: serifB(21)}], x: 473, y: 46, align: 'right'},
    {parts: [{t: 'p', font: serifBI(21)}, {t: '=0.111', font: serifB(21)}], x: 473, y: 77, align: 'right'},
    {parts: [{t: 'Plasma Log Aβ', font: serifB(19)}, {t: '42', font: serifB(13), dy: 4}, {t: '（ p g / m l）', font: serifB(19)}], x: 40, y: 213, rotate: true},
    {parts: [{t: 'PSQI score', font: sansB(21)}], x: 261, y: 408, align: 'center'}
  ]
});

makePanel('chartC', {
  points: outC.concat(bandC, coreC, coreC2, coreC3), fitX: fitCX, fitY: fitCY, dot: 1.8,
  xMin: 0, xMax: 15, xStep: 5, xTicks: cTickValues, xLabels: cTickLabels, xPosition: {y: 0},
  yMin: -1, yMax: 1, yStep: 0.5, yFormat: v => v.toFixed(1),
  lineW: 4, tickLen: 9, fontSize: 20, yWidth: 87,
  padding: {left: 0, top: 89, right: 25, bottom: 58},
  texts: [
    {parts: [{t: 'C', font: sansB(16)}], x: 9, y: 49, align: 'left'},
    {parts: [{t: 'r=-0.07', font: serifB(21)}], x: 463, y: 60, align: 'right'},
    {parts: [{t: 'p', font: serifBI(21)}, {t: '=0.040', font: serifB(21)}], x: 467, y: 93, align: 'right'},
    {parts: [{t: 'Plasma Log Aβ', font: sansB(21)}, {t: '42', font: sansB(14), dy: 5}, {t: '/Aβ', font: sansB(21)}, {t: '40', font: sansB(14), dy: 5}], x: 21, y: 217, rotate: true},
    {parts: [{t: 'PSQI score', font: sansB(21)}], x: 281, y: 398, align: 'center'}
  ]
});
</script>
</body>
</html>
